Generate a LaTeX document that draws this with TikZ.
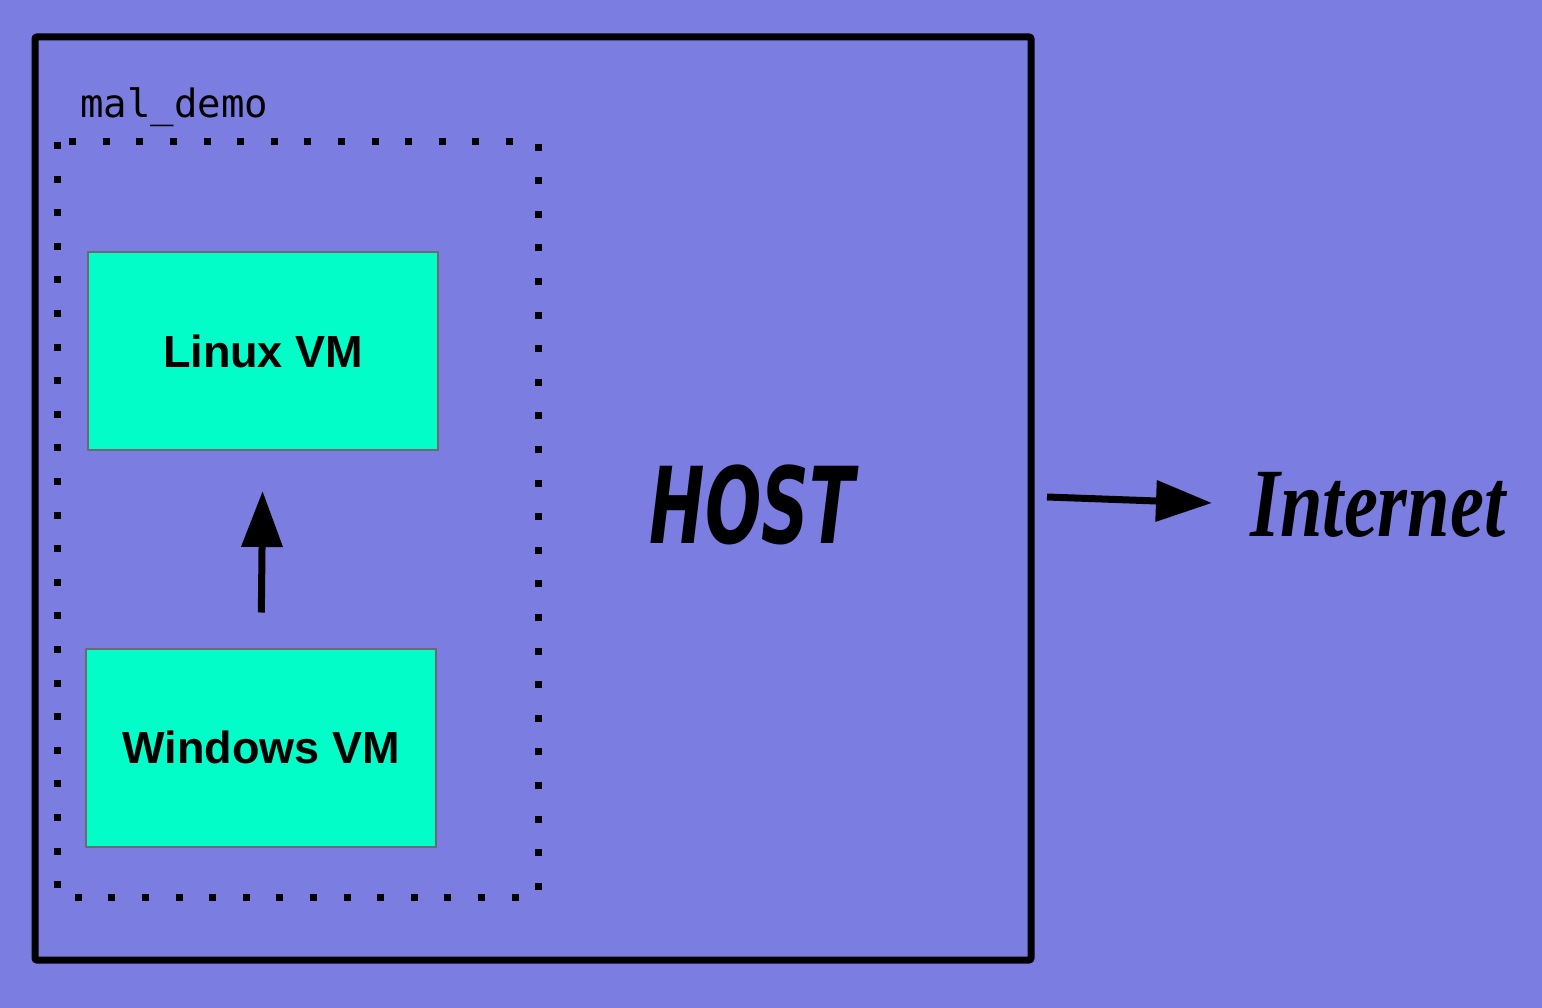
\documentclass[tikz,border=0pt]{standalone}
\usepackage{fontspec}
\setmainfont{Liberation Sans}
\newfontfamily\monofont{DejaVu Sans Mono}
\newfontfamily\hostfont[FakeStretch=0.625]{DejaVu Sans}
\newfontfamily\netfont[FakeStretch=0.78]{Liberation Serif}
\usetikzlibrary{arrows.meta, calc, positioning}

\definecolor{bgblue}{HTML}{7B7DE0}
\definecolor{vmteal}{HTML}{02FDC9}
\definecolor{vmedge}{HTML}{6A6A70}

\tikzset{
	vmbox/.style={draw=vmedge, line width=2pt, fill=vmteal, minimum width=350pt, minimum height=198pt, font=\fontsize{45}{50}\selectfont\bfseries},
	bigarrow/.style={-{Triangle[length=56pt, width=40pt]}, line width=7pt}
}

\begin{document}
\begin{tikzpicture}[x=1pt, y=-1pt]
		\fill[bgblue] (0,0) rectangle (1542,1008);
		\useasboundingbox (0,0) rectangle (1542,1008);
		% host machine
		\node[draw, line width=7pt, rounded corners=2pt, minimum width=996pt, minimum height=923pt] (host) at (533,498.5) {};
		\node[font=\hostfont\bfseries\itshape\fontsize{106}{110}\selectfont] (hostlabel) at (752,505) {HOST};
		% the mal_demo network
		\coordinate (d1) at (57,142);
		\coordinate (d2) at (538,897);
		\draw[line width=7pt, dash pattern=on 7pt off 26.6pt] (d1) rectangle (d2);
		\node[anchor=base west, font=\monofont\fontsize{39}{42}\selectfont, inner sep=0pt] (netlabel) at (80,118) {mal\_demo};
		% the two VMs
		\node[vmbox] (linux) at (263,351) {Linux VM};
		\node[vmbox] (windows) at (261,747.5) {Windows VM};
		\draw[bigarrow, shorten <=35pt, shorten >=40pt] (windows.north) -- (linux.south);
		% outside
		\node[font=\netfont\bfseries\itshape\fontsize{98}{100}\selectfont, anchor=west] (inet) at (1247,505) {Internet};
		\draw[bigarrow] ([xshift=12.5pt,yshift=1.5pt]host.east) -- ([xshift=-35pt,yshift=2pt]inet.west);
	\end{tikzpicture}
\end{document}
